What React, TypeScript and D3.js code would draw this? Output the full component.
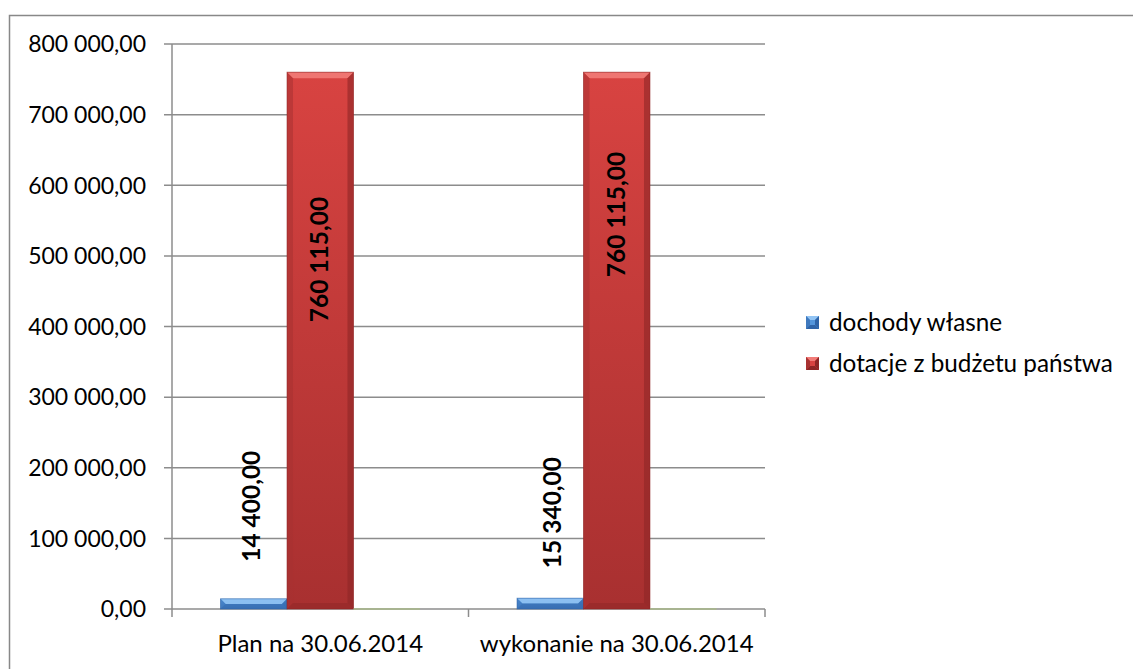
import React from "react";
import * as d3 from "d3";

const categories = ["Plan na 30.06.2014", "wykonanie na 30.06.2014"];
const seriesNames = ["dochody własne", "dotacje z budżetu państwa", ""];
const dochodyWlasne = [14400, 15340];
const dotacje = [760115, 760115];
const trzecia = [0, 0];
const yTicks = [0, 100000, 200000, 300000, 400000, 500000, 600000, 700000, 800000];
const legendSeries = [0, 1];

const W = 1133;
const H = 669;
const plot = { left: 172, right: 765, top: 44, bottom: 609 };
const FONT = "Lato, 'Open Sans', sans-serif";

// label start offsets (px below bar top) per series/category, presentation only
const labelShift = [
  [-37, -30],
  [250, 205],
];

const fmt = (v: number) => {
  const s = v.toFixed(2).replace(".", ",");
  const [i, d] = s.split(",");
  return i.replace(/\B(?=(\d{3})+(?!\d))/g, " ") + "," + d;
};

const palettes = [
  { main: "#5496dc", light: "#92c4f4", dark: "#2f64a8", edge: "#3f79be" },
  { main: "#d84341", light: "#f27c78", dark: "#8e2626", edge: "#a83232" },
  { main: "#a9b88a", light: "#c4d0a6", dark: "#8a9a6a", edge: "#9aaa7a" },
];

function BevelBar({ x, y, w, h, p, id }: any) {
  if (h <= 0) {
    return <line x1={x} x2={x + w} y1={y} y2={y} stroke={p.main} strokeWidth={1.5} />;
  }
  const b = Math.min(6, h / 2, w / 4);
  return (
    <g>
      <rect x={x} y={y} width={w} height={h} fill={`url(#${id})`} />
      <polygon points={`${x},${y} ${x + w},${y} ${x + w - b},${y + b} ${x + b},${y + b}`} fill={p.light} opacity={0.9} />
      <polygon points={`${x},${y} ${x + b},${y + b} ${x + b},${y + h - b} ${x},${y + h}`} fill={p.edge} opacity={0.55} />
      <polygon points={`${x + w},${y} ${x + w - b},${y + b} ${x + w - b},${y + h - b} ${x + w},${y + h}`} fill={p.dark} opacity={0.6} />
      <polygon points={`${x},${y + h} ${x + b},${y + h - b} ${x + w - b},${y + h - b} ${x + w},${y + h}`} fill={p.dark} opacity={0.5} />
      <rect x={x} y={y} width={w} height={h} fill="none" stroke={p.dark} strokeWidth={0.8} opacity={0.7} />
    </g>
  );
}

export default function App() {
  const y = d3.scaleLinear().domain([0, 800000]).range([plot.bottom, plot.top]);
  const x0 = d3.scaleBand().domain(categories).range([plot.left, plot.right]).paddingInner(0).paddingOuter(0);
  const x1 = d3
    .scaleBand()
    .domain(["0", "1", "2"])
    .range([0, x0.bandwidth()])
    .paddingInner(0)
    .paddingOuter(0.73);
  const series = [dochodyWlasne, dotacje, trzecia];
  const grid = "#8c8c8c";

  return (
    <svg width={W} height={H} style={{ position: "absolute", left: 0, top: 0, background: "#fff" }}>
      <defs>
        {palettes.map((p, i) => (
          <linearGradient key={i} id={`g${i}`} x1="0" y1="0" x2="0" y2="1">
            <stop offset="0" stopColor={p.main} />
            <stop offset="1" stopColor={i === 1 ? "#a83030" : p.edge} />
          </linearGradient>
        ))}
      </defs>
      <rect x={9.5} y={15.5} width={1300} height={800} fill="none" stroke="#888" strokeWidth={1.5} />

      {yTicks.map((t) => (
        <g key={t}>
          <line x1={plot.left - 8} x2={plot.right} y1={y(t)} y2={y(t)} stroke={grid} strokeWidth={1.5} />
          <text x={146} y={y(t)} dy="0.36em" textAnchor="end" fontFamily={FONT} fontSize={23} fill="#000">
            {fmt(t)}
          </text>
        </g>
      ))}
      <line x1={plot.left} x2={plot.left} y1={plot.top} y2={plot.bottom + 8} stroke={grid} strokeWidth={1.5} />
      {categories.map((c) => (
        <line
          key={c}
          x1={x0(c)! + x0.bandwidth()}
          x2={x0(c)! + x0.bandwidth()}
          y1={plot.bottom}
          y2={plot.bottom + 8}
          stroke={grid}
          strokeWidth={1.5}
        />
      ))}

      {categories.map((c, ci) =>
        series.map((vals, si) => {
          const bx = x0(c)! + x1(String(si))!;
          const by = y(vals[ci]);
          return (
            <BevelBar
              key={c + si}
              x={bx}
              y={by}
              w={x1.bandwidth()}
              h={plot.bottom - by}
              p={palettes[si]}
              id={`g${si}`}
            />
          );
        })
      )}

      {categories.map((c, ci) =>
        [0, 1].map((si) => {
          const vals = series[si];
          const cx = x0(c)! + x1(String(si))! + x1.bandwidth() / 2 + (si === 0 ? (ci === 0 ? -3 : 2) : -1);
          const sy = y(vals[ci]) + labelShift[si][ci];
          return (
            <text
              key={"lab" + c + si}
              transform={`translate(${cx + 9},${sy}) rotate(-90)`}
              fontFamily={FONT}
              fontWeight={700}
              fontSize={24.5}
              fill="#000"
            >
              {fmt(vals[ci])}
            </text>
          );
        })
      )}

      {categories.map((c) => (
        <text
          key={"cat" + c}
          x={x0(c)! + x0.bandwidth() / 2}
          y={652}
          textAnchor="middle"
          fontFamily={FONT}
          fontSize={24}
          fill="#000"
        >
          {c}
        </text>
      ))}

      {legendSeries.map((si, i) => {
        const ly = 316 + i * 41;
        const p = palettes[si];
        return (
          <g key={"leg" + si}>
            <rect x={806} y={ly} width={13} height={13} fill={p.main} />
            <polygon points={`806,${ly} 819,${ly} 815,${ly + 4} 810,${ly + 4}`} fill={p.light} />
            <polygon points={`806,${ly} 810,${ly + 4} 810,${ly + 9} 806,${ly + 13}`} fill={p.edge} />
            <polygon points={`819,${ly} 815,${ly + 4} 815,${ly + 9} 819,${ly + 13}`} fill={p.dark} />
            <polygon points={`806,${ly + 13} 810,${ly + 9} 815,${ly + 9} 819,${ly + 13}`} fill={p.dark} />
            <text x={829} y={ly + 6.5} dy="0.36em" fontFamily={FONT} fontSize={24.3} fill="#000">
              {seriesNames[si]}
            </text>
          </g>
        );
      })}
    </svg>
  );
}
